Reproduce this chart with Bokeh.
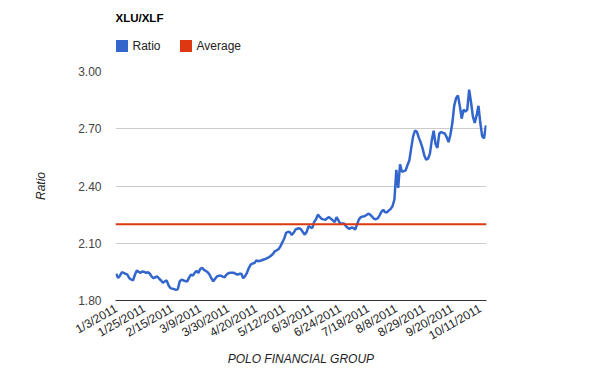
from bokeh.plotting import figure
from bokeh.layouts import column
from bokeh.models import (Range1d, FixedTicker, Legend, LegendItem, Span, NumeralTickFormatter, Label)
from bokeh.embed import file_html
from bokeh.resources import INLINE

title_text = "XLU/XLF"
series_names = ["Ratio", "Average"]
series_colors = ["#3366cc", "#dc3912"]

tick_labels = ["1/3/2011", "1/25/2011", "2/15/2011", "3/9/2011", "3/30/2011", "4/20/2011",
               "5/12/2011", "6/3/2011", "6/24/2011", "7/18/2011", "8/8/2011", "8/29/2011",
               "9/20/2011", "10/11/2011"]
tick_index = [0, 15, 30, 45, 60, 75, 90, 105, 120, 135, 150, 165, 180, 195]

y_ticks = [1.80, 2.10, 2.40, 2.70, 3.00]

ratio = [
    1.940, 1.918, 1.930, 1.948, 1.945, 1.940, 1.935, 1.917, 1.910, 1.905,
    1.935, 1.957, 1.950, 1.945, 1.952, 1.950, 1.945, 1.948, 1.940, 1.925,
    1.917, 1.922, 1.926, 1.914, 1.905, 1.893, 1.900, 1.905, 1.880, 1.865,
    1.862, 1.860, 1.856, 1.860, 1.900, 1.910, 1.905, 1.902, 1.900, 1.920,
    1.936, 1.930, 1.945, 1.955, 1.945, 1.965, 1.972, 1.960, 1.955, 1.948,
    1.935, 1.915, 1.900, 1.915, 1.926, 1.930, 1.930, 1.925, 1.922, 1.935,
    1.943, 1.945, 1.946, 1.945, 1.940, 1.935, 1.940, 1.940, 1.917, 1.928,
    1.945, 1.970, 1.988, 1.994, 1.996, 2.010, 2.006, 2.008, 2.011, 2.015,
    2.018, 2.023, 2.028, 2.036, 2.045, 2.059, 2.063, 2.070, 2.085, 2.106,
    2.125, 2.155, 2.160, 2.158, 2.143, 2.155, 2.172, 2.176, 2.179, 2.172,
    2.158, 2.145, 2.160, 2.190, 2.183, 2.180, 2.212, 2.226, 2.250, 2.238,
    2.228, 2.225, 2.223, 2.232, 2.237, 2.228, 2.220, 2.211, 2.237, 2.220,
    2.202, 2.204, 2.203, 2.190, 2.180, 2.176, 2.183, 2.180, 2.171, 2.200,
    2.225, 2.237, 2.240, 2.242, 2.248, 2.255, 2.250, 2.240, 2.228, 2.226,
    2.230, 2.245, 2.265, 2.275, 2.262, 2.262, 2.272, 2.280, 2.295, 2.330,
    2.485, 2.390, 2.513, 2.475, 2.478, 2.482, 2.510, 2.535, 2.600, 2.660,
    2.690, 2.685, 2.655, 2.630, 2.600, 2.560, 2.538, 2.543, 2.570, 2.640,
    2.690, 2.620, 2.600, 2.675, 2.683, 2.678, 2.675, 2.655, 2.630, 2.670,
    2.730, 2.820, 2.860, 2.875, 2.820, 2.753, 2.800, 2.790, 2.800, 2.905,
    2.840, 2.765, 2.730, 2.770, 2.820, 2.730, 2.660, 2.650, 2.718,
]
average = 2.20

FONT = "Liberation Sans"
W = 600
HEADER_H = 63
MAIN_H = 308

# ---------- header: title + legend (frame is aligned with the chart frame below) ----------
hdr = figure(width=W, height=HEADER_H, output_backend="svg", toolbar_location=None,
             x_range=Range1d(0, 1), y_range=Range1d(0, 1),
             x_axis_type=None, y_axis_type=None,
             min_border=0, min_border_left=0, min_border_right=0,
             min_border_top=0, min_border_bottom=0)
hdr.outline_line_color = None
hdr.xgrid.visible = False
hdr.ygrid.visible = False
hdr.title.visible = False

hdr.add_layout(Label(x=0, y=46, x_units="screen", y_units="screen", text=title_text,
                     text_font=FONT, text_font_size="11.5px", text_font_style="bold",
                     text_color="#000000", text_baseline="middle", text_align="left"))

sw1 = hdr.quad(left=[0], right=[1], top=[1], bottom=[0], fill_color=series_colors[0],
               line_color=None, visible=False)
sw2 = hdr.quad(left=[0], right=[1], top=[1], bottom=[0], fill_color=series_colors[1],
               line_color=None, visible=False)
legend = Legend(items=[LegendItem(label=series_names[0], renderers=[sw1]),
                       LegendItem(label=series_names[1], renderers=[sw2])],
                orientation="horizontal", location=(-1.5, 10),
                padding=0, margin=0, spacing=17, glyph_width=15, glyph_height=15,
                label_standoff=4, label_height=15, border_line_alpha=0, background_fill_alpha=0,
                inactive_fill_alpha=0,
                label_text_font=FONT, label_text_font_size="12px", label_text_color="#222222")
hdr.add_layout(legend, "center")

# ---------- main chart ----------
x = list(range(len(ratio)))

p = figure(width=W, height=MAIN_H, output_backend="svg", toolbar_location=None,
           x_range=Range1d(-0.4, len(ratio) - 0.7), y_range=Range1d(y_ticks[0], y_ticks[-1]),
           min_border_left=115, min_border_right=114, min_border_bottom=71, min_border_top=8)
p.outline_line_color = None
p.title.visible = False

p.line(x, ratio, line_color=series_colors[0], line_width=2.5)
p.add_layout(Span(location=average, dimension="width", line_color=series_colors[1], line_width=2))

p.xaxis.ticker = FixedTicker(ticks=tick_index)
p.xaxis.major_label_overrides = {i: t for i, t in zip(tick_index, tick_labels)}
p.xaxis.major_label_orientation = 0.52
p.xaxis.axis_line_color = "#333333"
p.xaxis.major_tick_line_color = None
p.xaxis.minor_tick_line_color = None
p.xaxis.major_label_standoff = 1
p.xaxis.major_label_text_font = FONT
p.xaxis.major_label_text_font_size = "12px"
p.xaxis.major_label_text_color = "#222222"
p.xaxis.axis_label = "POLO FINANCIAL GROUP"
p.xaxis.axis_label_text_font = FONT
p.xaxis.axis_label_text_font_size = "12px"
p.xaxis.axis_label_text_font_style = "italic"
p.xaxis.axis_label_text_color = "#222222"
p.xaxis.axis_label_standoff = 0

p.yaxis.ticker = FixedTicker(ticks=y_ticks)
p.yaxis.formatter = NumeralTickFormatter(format="0.00")
p.yaxis.axis_line_color = None
p.yaxis.major_tick_line_color = None
p.yaxis.minor_tick_line_color = None
p.yaxis.major_label_standoff = 8
p.yaxis.major_label_text_font = FONT
p.yaxis.major_label_text_font_size = "12px"
p.yaxis.major_label_text_color = "#444444"
p.yaxis.axis_label = "Ratio"
p.yaxis.axis_label_text_font = FONT
p.yaxis.axis_label_text_font_size = "12px"
p.yaxis.axis_label_text_font_style = "italic"
p.yaxis.axis_label_text_color = "#222222"
p.yaxis.axis_label_standoff = 27

p.xgrid.grid_line_color = None
p.ygrid.grid_line_color = "#cccccc"
p.ygrid.grid_line_width = 1

layout = column(hdr, p, spacing=0)

open("out.html", "w").write(file_html(layout, INLINE))
